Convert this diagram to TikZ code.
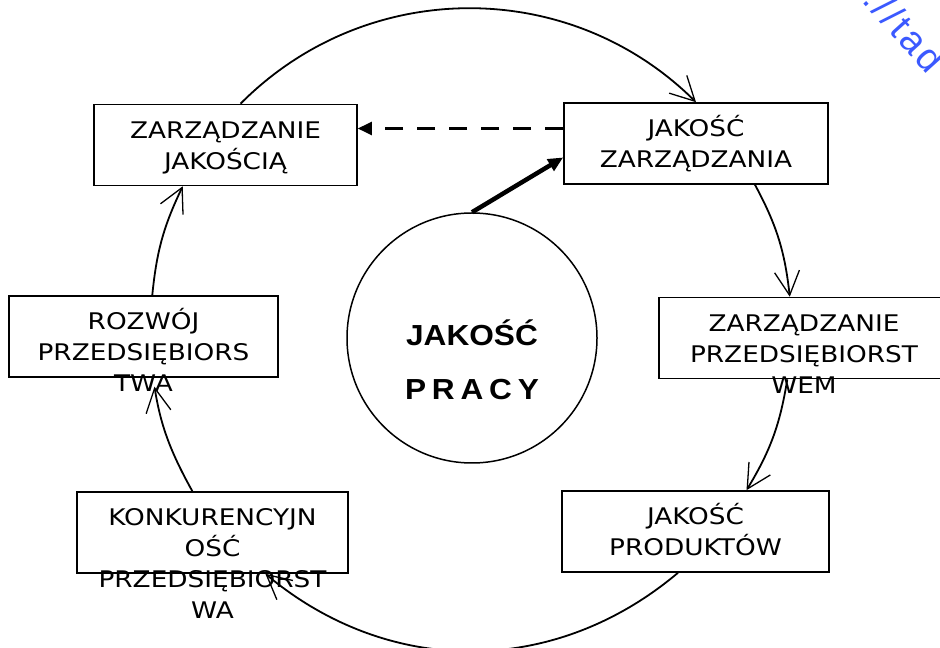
\documentclass[tikz,border=0pt]{standalone}
\usepackage{fontspec}
\usepackage{xcolor}
\usepackage{tikz}
\usetikzlibrary{arrows.meta}

\newfontfamily\boxfont[FakeStretch=1.15]{DejaVu Sans}
\newfontfamily\ringfont[FakeStretch=1.09]{Liberation Sans}
\newfontfamily\markfont[LetterSpace=8]{Liberation Sans}
\definecolor{markblue}{RGB}{59,89,255}
% lines hang from the first baseline
\newcommand{\rows}[1]{\begin{tabular}[t]{@{}c@{}}#1\end{tabular}}

\begin{document}
\begin{tikzpicture}[
    x=1pt, y=1pt,
    box/.style={rectangle, draw, line width=1.6pt, inner sep=0pt, minimum width=#1,
        text height=34pt, text depth=47pt,
        font={\boxfont\fontsize{22.9}{31}\selectfont}},
    box/.default=265pt,
    ring/.style={circle, draw, line width=1.5pt, minimum size=250pt, inner sep=0pt,
        text height=20pt, text depth=4pt,
        font={\ringfont\bfseries\fontsize{29}{54}\selectfont}},
    arr/.style={-{Straight Barb[length=24pt, width=25pt, line width=1.3pt]}, line width=1.8pt},
    dasharr/.style={-{Triangle[length=14pt, width=13pt]}, line width=2.2pt, dash pattern=on 18pt off 14pt},
    boldarr/.style={-{Triangle[length=15pt, width=13pt]}, line width=4.5pt},
]
    \useasboundingbox (0,0) rectangle (940,648);

    % Centre
    \node[ring] (work) at (472,310) {\rows{JAKOŚĆ\\{\addfontfeature{LetterSpace=20}PRACY}}};

    % Boxes round the cycle
    \node[box=263pt] (qm) at (225.5,503) {\rows{ZARZĄDZANIE\\JAKOŚCIĄ}};
    \node[box=264pt] (mq) at (696,504.5) {\rows{JAKOŚĆ\\ZARZĄDZANIA}};
    \node[box=290pt] (em) at (804,310) {\rows{ZARZĄDZANIE\\PRZEDSIĘBIORST\\WEM}};
    \node[box=267pt] (pq) at (695.5,116.5) {\rows{JAKOŚĆ\\PRODUKTÓW}};
    \node[box=271pt] (ec) at (212.5,115.5) {\rows{KONKURENCYJN\\OŚĆ\\PRZEDSIĘBIORST\\WA}};
    \node[box=269pt] (ed) at (143.5,311.5) {\rows{ROZWÓJ\\PRZEDSIĘBIORS\\TWA}};

    % Mark
    \node[font={\markfont\fontsize{38}{40}\selectfont}, text=markblue, rotate=-48, anchor=base west, inner sep=0pt] (mark) at (861,647) {://tad};

    % Arrows
    \draw[arr] (qm.70) to[bend left=45] (mq.north);
    \draw[arr] (mq.-35) to[bend left=11] (em.109);
    \draw[arr] (em.-112) to[bend left=11] (pq.39);
    \draw[arr] (pq.-113) to[bend left=40] (ec.-38);
    \draw[arr, shorten >=9pt] (ec.116) to[bend left=10] (ed.-77);
    \draw[arr] (ed.78) to[bend left=10] (qm.-136);
    \draw[dasharr] ([yshift=15pt]mq.west) -- ([yshift=15pt]mq.west -| qm.east);
    \draw[boldarr] (work.north) -- (mq.186);

\end{tikzpicture}
\end{document}
